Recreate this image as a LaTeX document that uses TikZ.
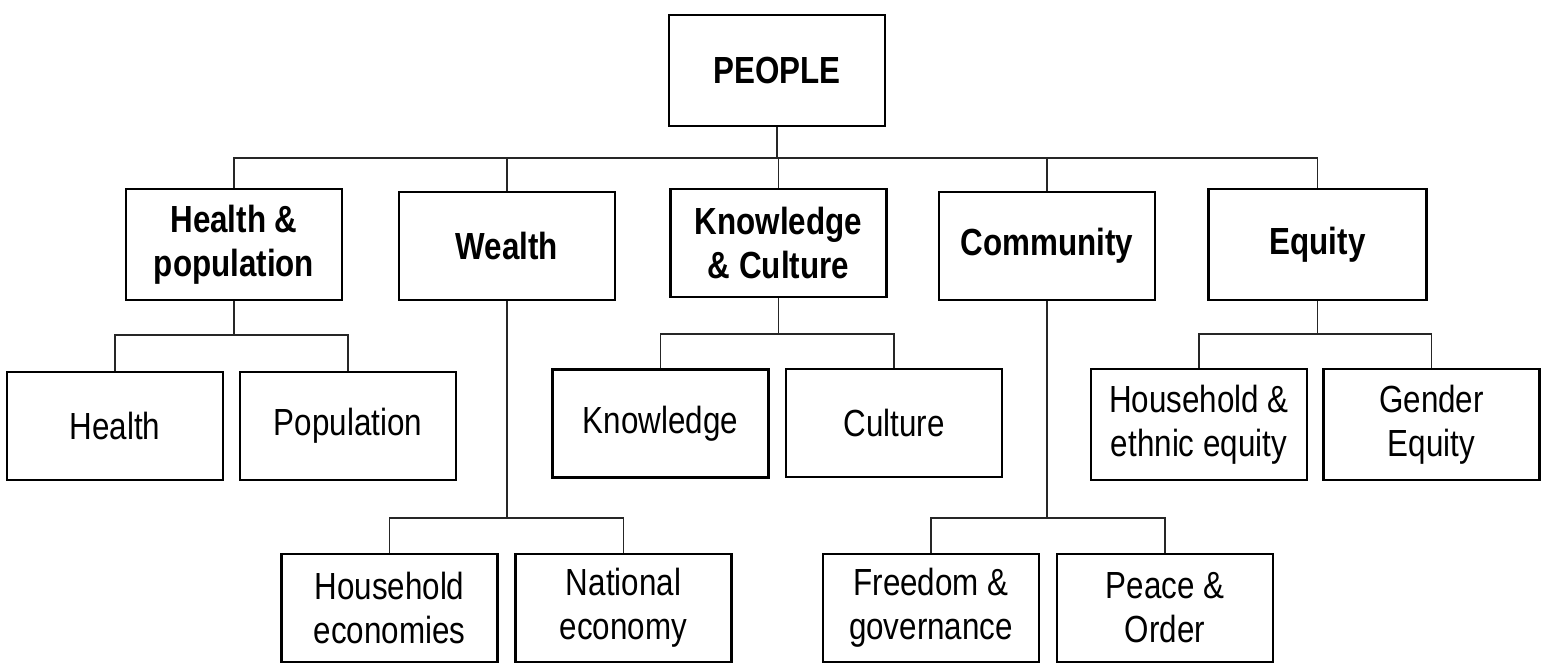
\documentclass[tikz,border=0pt]{standalone}
\usepackage{fontspec}
\setmainfont[FakeStretch=0.83]{Liberation Sans}
\tikzset{
  box/.style={draw, line width=1.4pt, minimum width=4.32cm, minimum height=2.16cm, align=center, inner sep=2pt, font=\fontsize{21.5}{25}\selectfont},
  head/.style={box, font=\fontsize{21.5}{25}\selectfont\bfseries},
  link/.style={line width=1.1pt, black!85}
}
\begin{document}
\begin{tikzpicture}
\useasboundingbox (0,0) rectangle (30.94,13.40);

\node[head, minimum height=2.22cm] (people) at (15.54,11.99) {PEOPLE};

\node[head, minimum height=2.22cm] (hp) at (4.68,8.51) {Health \&\\population};
\node[head] (wealth) at (10.14,8.48) {Wealth};
\node[head] (kc) at (15.57,8.54) {Knowledge\\\& Culture};
\node[head] (comm) at (20.94,8.48) {Community};
\node[head, minimum height=2.22cm, minimum width=4.36cm] (eq) at (26.35,8.51) {Equity};

\node[box] (health) at (2.30,4.88) {Health};
\node[box] (pop) at (6.96,4.88) {Population};
\node[box] (know) at (13.21,4.93) {Knowledge};
\node[box] (cult) at (17.88,4.94) {Culture};
\node[box, minimum height=2.22cm] (hee) at (23.98,4.91) {Household \&\\ethnic equity};
\node[box, minimum height=2.22cm] (gen) at (28.63,4.91) {Gender\\Equity};

\node[box] (hec) at (7.79,1.24) {Household\\economies};
\node[box] (nat) at (12.47,1.24) {National\\economy};
\node[box] (free) at (18.62,1.24) {Freedom \&\\governance};
\node[box] (peace) at (23.30,1.24) {Peace \&\\Order};

\foreach \c in {hp,wealth,kc,comm,eq}
  \draw[link] (people.south) -- ++(0,-0.62) -| (\c.north);

\foreach \c in {health,pop}
  \draw[link] (hp.south) -- ++(0,-0.68) -| (\c.north);
\foreach \c in {know,cult}
  \draw[link] (kc.south) -- ++(0,-0.72) -| (\c.north);
\foreach \c in {hee,gen}
  \draw[link] (eq.south) -- ++(0,-0.66) -| (\c.north);
\foreach \c in {hec,nat}
  \draw[link] (wealth.south) -- ++(0,-4.34) -| (\c.north);
\foreach \c in {free,peace}
  \draw[link] (comm.south) -- ++(0,-4.34) -| (\c.north);

\end{tikzpicture}
\end{document}
